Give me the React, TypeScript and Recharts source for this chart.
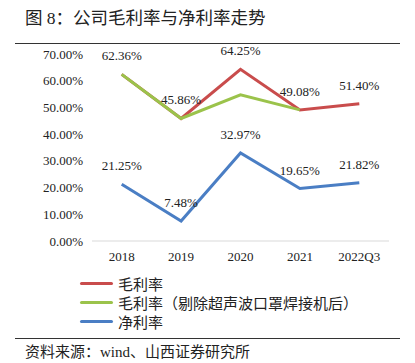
import { CartesianGrid, LabelList, Line, LineChart, XAxis, YAxis } from "recharts";

const categories = ["2018", "2019", "2020", "2021", "2022Q3"];
const grossMargin = [62.36, 45.86, 64.25, 49.08, 51.4];
const grossMarginExcl = [62.36, 45.86, 54.7, 49.08, null];
const netMargin = [21.25, 7.48, 32.97, 19.65, 21.82];
// which points carry a value label on each line (shared points are labelled once)
const grossLabelShown = [false, false, true, false, true];
const exclLabelShown = [true, true, false, true, false];
const yTicks = [0, 10, 20, 30, 40, 50, 60, 70];

const series = [
  { key: "gross", name: "毛利率", color: "#C94C4C" },
  { key: "excl", name: "毛利率（剔除超声波口罩焊接机后）", color: "#9BC34B" },
  { key: "net", name: "净利率", color: "#4A7EC4" },
];

const data = categories.map((c, i) => ({
  name: c,
  gross: grossMargin[i],
  excl: grossMarginExcl[i],
  net: netMargin[i],
  grossLabel: grossLabelShown[i] ? grossMargin[i] : null,
  exclLabel: exclLabelShown[i] ? grossMarginExcl[i] : null,
}));

const SERIF = "'Liberation Serif', 'Times New Roman', serif";
const MIXED = "'Liberation Serif', 'Noto Sans CJK SC', sans-serif";
const pct = (v: unknown) => (v == null ? "" : `${Number(v).toFixed(2)}%`);

export default function App() {
  const labelStyle = { fontFamily: SERIF, fontSize: 13, fill: "#222" };
  return (
    <div
      style={{
        position: "absolute",
        left: 0,
        top: 0,
        width: 415,
        height: 363,
        background: "#fff",
        overflow: "hidden",
        fontFamily: MIXED,
        color: "#222",
      }}
    >
      <div style={{ position: "absolute", left: 25, top: 7, fontSize: 17.5, lineHeight: "22px" }}>
        图 8：公司毛利率与净利率走势
      </div>
      <div style={{ position: "absolute", left: 15, top: 43, width: 385, height: 1, background: "#333" }} />

      <div style={{ position: "absolute", left: 0, top: 0 }}>
        <LineChart width={415} height={280} data={data} margin={{ top: 54, right: 26, bottom: 9, left: 0 }}>
          <CartesianGrid horizontal={false} vertical={false} />
          <XAxis
            dataKey="name"
            scale="band"
            height={30}
            tickLine={false}
            tickSize={0}
            tickMargin={11}
            axisLine={{ stroke: "#d9d9d9" }}
            tick={{ fontFamily: SERIF, fontSize: 13, fill: "#222" }}
          />
          <YAxis
            width={92}
            domain={[0, 70]}
            ticks={yTicks}
            axisLine={false}
            tickLine={false}
            tickSize={0}
            tickMargin={9}
            tickFormatter={(v: number) => `${v.toFixed(2)}%`}
            tick={{ fontFamily: SERIF, fontSize: 13, fill: "#222" }}
          />
          <Line dataKey="gross" stroke={series[0].color} strokeWidth={3} dot={false} isAnimationActive={false}>
            <LabelList dataKey="grossLabel" position="top" offset={14} formatter={pct} style={labelStyle} />
          </Line>
          <Line dataKey="excl" stroke={series[1].color} strokeWidth={3} dot={false} isAnimationActive={false}>
            <LabelList dataKey="exclLabel" position="top" offset={14} formatter={pct} style={labelStyle} />
          </Line>
          <Line dataKey="net" stroke={series[2].color} strokeWidth={3} dot={false} isAnimationActive={false}>
            <LabelList dataKey="net" position="top" offset={14} formatter={pct} style={labelStyle} />
          </Line>
        </LineChart>
      </div>

      <div style={{ position: "absolute", left: 80, top: 274 }}>
        {series.map((s) => (
          <div key={s.key} style={{ display: "flex", alignItems: "center", height: 19, fontSize: 15 }}>
            <span style={{ width: 33, height: 3, background: s.color, borderRadius: 2, marginRight: 5 }} />
            <span>{s.name}</span>
          </div>
        ))}
      </div>

      <div style={{ position: "absolute", left: 15, top: 338, width: 385, height: 1, background: "#333" }} />
      <div style={{ position: "absolute", left: 25, top: 342, fontSize: 15, lineHeight: "20px" }}>
        资料来源：wind、山西证券研究所
      </div>
    </div>
  );
}
